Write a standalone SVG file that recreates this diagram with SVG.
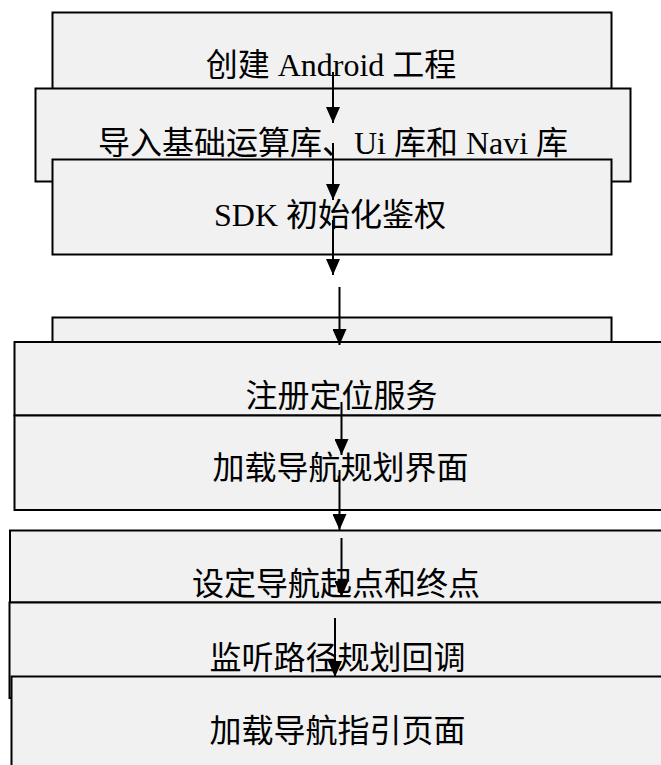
<svg xmlns="http://www.w3.org/2000/svg" width="661" height="765" viewBox="0 0 661 765">
<style>
.box{fill:#f1f1f1;stroke:#000;stroke-width:2}
.t{font-family:"Liberation Serif","Noto Sans CJK SC",serif;font-size:32px;fill:#000;text-anchor:middle}
.c{stroke:#000;stroke-width:2;fill:none;marker-end:url(#ah)}
</style>
<defs>
<marker id="ah" viewBox="0 0 16 14" markerWidth="16" markerHeight="14" refX="16" refY="7" orient="auto" markerUnits="userSpaceOnUse"><path d="M0,0 L16,7 L0,14 z" fill="#000"/></marker>
</defs>
<rect x="0" y="0" width="661" height="765" fill="#fff"/>
<g id="n1"><rect class="box" x="52.5" y="12.5" width="559" height="90"/><text class="t" x="331" y="75.5">创建 Android 工程</text></g>
<g id="n2"><rect class="box" x="35.5" y="88.5" width="595" height="93"/><text class="t" x="333" y="154">导入基础运算库、Ui 库和 Navi 库</text></g>
<g id="n3"><rect class="box" x="52.5" y="159.5" width="559" height="95"/><text class="t" x="330" y="226">SDK 初始化鉴权</text></g>
<g id="n4"><rect class="box" x="52.5" y="317.5" width="559" height="50"/></g>
<g id="n5"><rect class="box" x="14.5" y="342" width="660" height="73.5"/><text class="t" x="341.5" y="407">注册定位服务</text></g>
<g id="n6"><rect class="box" x="14.5" y="415.5" width="660" height="94.5"/><text class="t" x="340.6" y="479">加载导航规划界面</text></g>
<g id="n7"><rect class="box" x="10" y="530.5" width="660" height="72"/><text class="t" x="336" y="595">设定导航起点和终点</text></g>
<g id="n8"><rect class="box" x="9.5" y="602.5" width="660" height="95.5"/><text class="t" x="337.5" y="669">监听路径规划回调</text></g>
<g id="n9"><rect class="box" x="11.5" y="676.5" width="660" height="100"/><text class="t" x="337.5" y="742">加载导航指引页面</text></g>
<g id="connectors">
<line class="c" x1="333" y1="72" x2="333" y2="123"/>
<line class="c" x1="333" y1="143" x2="333" y2="200"/>
<line class="c" x1="333" y1="220" x2="333" y2="275"/>
<line class="c" x1="339.5" y1="287" x2="339.5" y2="345"/>
<line class="c" x1="341.5" y1="402" x2="341.5" y2="455"/>
<line class="c" x1="339.5" y1="470" x2="339.5" y2="530"/>
<line class="c" x1="341.5" y1="538" x2="341.5" y2="597"/>
<line class="c" x1="335" y1="618" x2="335" y2="677"/>
</g>
</svg>
